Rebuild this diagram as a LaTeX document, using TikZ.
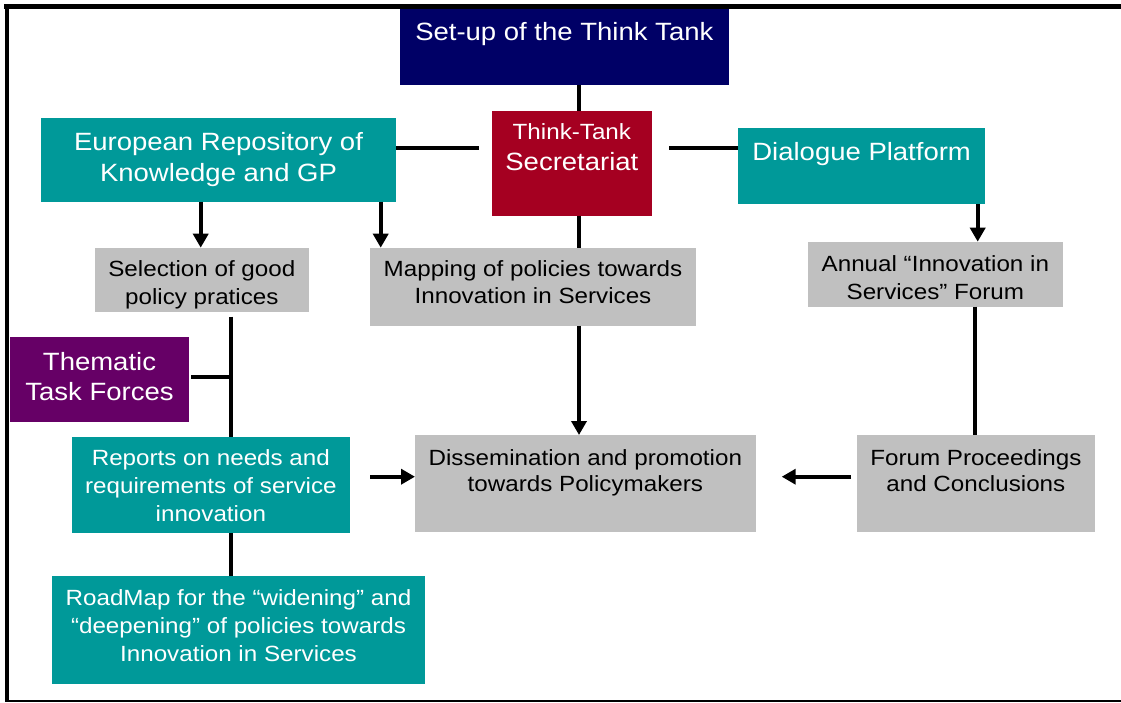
\documentclass[tikz,border=0pt]{standalone}
\usepackage{fontspec}
\setmainfont{Liberation Sans}[FakeStretch=1.1]
\usetikzlibrary{arrows.meta,calc}
\definecolor{tealc}{HTML}{009999}
\definecolor{grayc}{HTML}{C0C0C0}
\definecolor{navyc}{HTML}{000066}
\definecolor{crimc}{HTML}{A50021}
\definecolor{purpc}{HTML}{660066}
\newcommand{\mlines}[3]{\fontsize{#1}{#2}\selectfont\begin{tabular}[t]{@{}c@{}}#3\end{tabular}}
\begin{document}
\begin{tikzpicture}[x=1pt,y=-1pt,
  box/.style={rectangle, inner sep=0pt, outer sep=0pt, draw=none},
  tealb/.style={box, fill=tealc},
  grayb/.style={box, fill=grayc},
  navyb/.style={box, fill=navyc},
  crimb/.style={box, fill=crimc},
  purpb/.style={box, fill=purpc},
  txtw/.style={inner sep=0pt, outer sep=0pt, anchor=base, text=white},
  txtk/.style={inner sep=0pt, outer sep=0pt, anchor=base, text=black},
  conn/.style={line width=4pt},
  arr/.style={conn, -{Triangle[width=15pt,length=14pt]}},
  frame/.style={black}]
\useasboundingbox (0,0) rectangle (1121,702);
\fill[white] (0,0) rectangle (1121,702);

% boxes
\node[navyb, minimum width=328.6pt, minimum height=76.7pt] (setup) at (564.3,46.65) {};
\node[crimb, minimum width=159.7pt, minimum height=104.7pt] (sec) at (571.85,163.35) {};
\node[tealb, minimum width=355pt, minimum height=83.4pt] (euro) at (218.5,160) {};
\node[tealb, minimum width=246.7pt, minimum height=76pt] (dial) at (861.65,166.3) {};
\node[grayb, minimum width=213.7pt, minimum height=64pt] (sel) at (201.85,279.7) {};
\node[grayb, minimum width=326pt, minimum height=78pt] (map) at (533,286.7) {};
\node[grayb, minimum width=254.7pt, minimum height=65pt] (ann) at (935.35,274.2) {};
\node[purpb, minimum width=179pt, minimum height=84.4pt] (them) at (99.5,379.5) {};
\node[tealb, minimum width=277.7pt, minimum height=95.7pt] (rep) at (210.85,484.85) {};
\node[grayb, minimum width=340.7pt, minimum height=96.5pt] (dis) at (585.35,483.25) {};
\node[grayb, minimum width=237.7pt, minimum height=96.7pt] (forum) at (975.85,483.35) {};
\node[tealb, minimum width=373pt, minimum height=107.7pt] (road) at (238.5,629.85) {};

% texts
\node[txtw] (setupT) at (564.3,40) {\mlines{25}{31}{Set-up of the Think Tank}};
\node[txtw] (secT1) at (571.85,139.3) {\mlines{22}{27}{Think-Tank}};
\node[txtw] (secT2) at (571.85,170.7) {\mlines{25}{31}{Secretariat}};
\node[txtw] (euroT) at (218.5,150) {\mlines{25}{31.7}{European Repository of\\Knowledge and GP}};
\node[txtw] (dialT) at (861.65,160.7) {\mlines{25}{31}{Dialogue Platform}};
\node[txtk] (selT) at (201.85,276.7) {\mlines{22}{27.3}{Selection of good\\policy pratices}};
\node[txtk] (mapT) at (533,276.7) {\mlines{22}{26.7}{Mapping of policies towards\\Innovation in Services}};
\node[txtk] (annT) at (935.35,271.7) {\mlines{22}{27.6}{Annual “Innovation in\\Services” Forum}};
\node[txtw] (themT) at (99.5,370) {\mlines{25}{30.7}{Thematic\\Task Forces}};
\node[txtw] (repT) at (210.85,465.7) {\mlines{22}{28}{Reports on needs and\\requirements of service\\innovation}};
\node[txtk] (disT) at (585.35,465.7) {\mlines{22}{26}{Dissemination and promotion\\towards Policymakers}};
\node[txtk] (forumT) at (975.85,465) {\mlines{22}{26.7}{Forum Proceedings\\and Conclusions}};
\node[txtw] (roadT) at (238.5,605) {\mlines{22}{28}{RoadMap for the “widening” and\\“deepening” of policies towards\\Innovation in Services}};

% connectors
\coordinate (cx) at (579,0);
\coordinate (cy) at (0,147.7);
\coordinate (ax1) at (200.7,0);
\coordinate (ax2) at (380.7,0);
\coordinate (ax3) at (977.7,0);
\coordinate (ax4) at (975,0);
\coordinate (lx) at (230.5,0);
\coordinate (ty) at (0,377.3);
\coordinate (ay) at (0,476.7);

\draw[conn] (setup.south -| cx) -- (sec.north -| cx);
\draw[conn] (sec.south -| cx) -- (map.north -| cx);
\draw[arr] (map.south -| cx) -- (dis.north -| cx);
\draw[conn] (euro.east |- cy) -- ($(sec.west |- cy)+(-12.7,0)$);
\draw[conn] ($(sec.east |- cy)+(17.3,0)$) -- (dial.west |- cy);
\draw[arr] (euro.south -| ax1) -- (sel.north -| ax1);
\draw[arr] (euro.south -| ax2) -- (map.north -| ax2);
\draw[arr] (dial.south -| ax3) -- (ann.north -| ax3);
\draw[conn] (ann.south -| ax4) -- (forum.north -| ax4);
\draw[conn] ($(sel.south -| lx)+(0,5)$) -- (rep.north -| lx);
\draw[conn] ($(them.east |- ty)+(2,0)$) -- ($(lx |- ty)+(2,0)$);
\draw[conn] (rep.south -| lx) -- (road.north -| lx);
\draw[arr] ($(rep.east |- ay)+(20.3,0)$) -- (dis.west |- ay);
\draw[arr] ($(forum.west |- ay)+(-6,0)$) -- ($(dis.east |- ay)+(26,0)$);

% frame
\draw[frame, line width=5pt] (4,6.5) -- (1121,6.5);
\draw[frame, line width=4.3pt] (7.2,4) -- (7.2,702);
\draw[frame, line width=2pt] (7,700.8) -- (1121,700.8);
\end{tikzpicture}
\end{document}
